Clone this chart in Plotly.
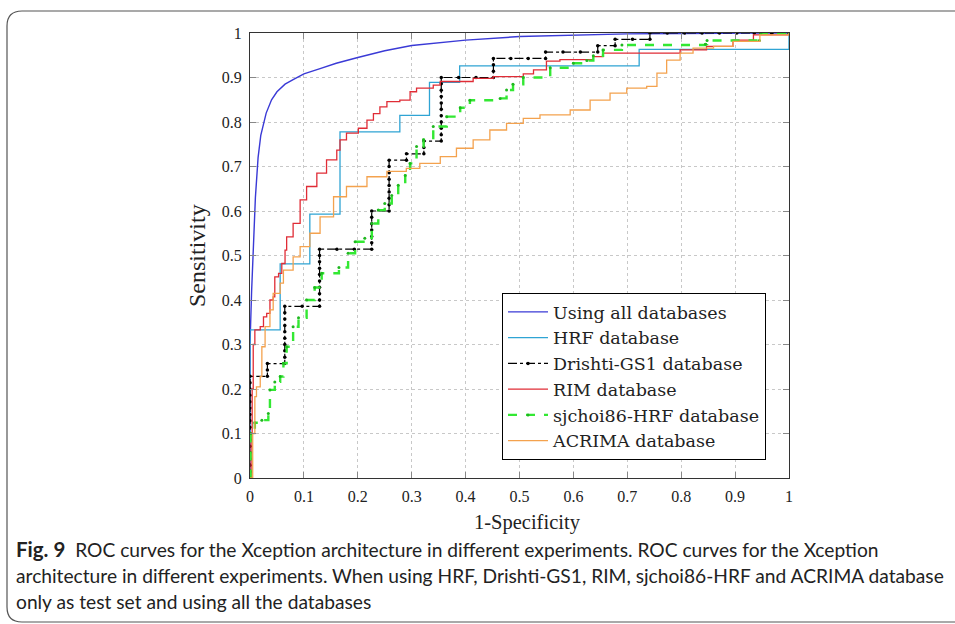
import plotly.graph_objects as go
import numpy as np

# ---------------- data ----------------
x_ticks = [0, 0.1, 0.2, 0.3, 0.4, 0.5, 0.6, 0.7, 0.8, 0.9, 1]
x_tick_text = ["0", "0.1", "0.2", "0.3", "0.4", "0.5", "0.6", "0.7", "0.8", "0.9", "1"]
y_ticks = [0, 0.1, 0.2, 0.3, 0.4, 0.5, 0.6, 0.7, 0.8, 0.9, 1]
y_tick_text = ["0", "0.1", "0.2", "0.3", "0.4", "0.5", "0.6", "0.7", "0.8", "0.9", "1"]

all_fpr = [0, 0, 0.003, 0.006, 0.01, 0.015, 0.02, 0.03, 0.04, 0.05, 0.065, 0.08, 0.1, 0.13,
           0.16, 0.2, 0.25, 0.3, 0.35, 0.4, 0.5, 0.6, 0.7, 0.8, 1]
all_tpr = [0, 0.3, 0.42, 0.52, 0.63, 0.72, 0.77, 0.82, 0.85, 0.868, 0.885, 0.895, 0.908, 0.92,
           0.932, 0.945, 0.96, 0.972, 0.978, 0.984, 0.992, 0.995, 0.998, 0.999, 1]

hrf_fpr = [0, 0, 0.056, 0.056, 0.111, 0.111, 0.167, 0.167, 0.278, 0.278, 0.333, 0.333,
           0.389, 0.389, 0.722, 0.722, 1, 1]
hrf_tpr = [0, 0.333, 0.333, 0.481, 0.481, 0.593, 0.593, 0.778, 0.778, 0.815, 0.815, 0.889,
           0.889, 0.926, 0.926, 0.963, 0.963, 1]

# Drishti-GS1: counts of negatives (of 31) and positives (of 70) at each threshold
drishti_fp_count = [0, 0, 0, 0, 0, 0, 0, 0, 0, 0, 0, 0, 0, 0, 0, 0, 0,
                    1, 1, 1,
                    2, 2, 2, 2, 2, 2, 2, 2, 2, 2,
                    3,
                    4, 4, 4, 4, 4, 4, 4, 4, 4, 4,
                    5, 6,
                    7, 7, 7, 7, 7, 7, 7,
                    8, 8, 8, 8, 8, 8, 8, 8, 8,
                    9, 9,
                    10, 10, 10,
                    11, 11, 11, 11, 11, 11, 11, 11, 11, 11, 11,
                    12, 13,
                    14, 14, 14, 14,
                    15, 16,
                    17, 17,
                    18, 19,
                    20, 20,
                    21, 21,
                    22,
                    23, 23,
                    24, 25, 26, 27, 28, 29, 30, 31]
drishti_tp_count = [0, 1, 2, 3, 4, 5, 6, 7, 8, 9, 10, 11, 12, 13, 14, 15, 16,
                    16, 17, 18,
                    18, 19, 20, 21, 22, 23, 24, 25, 26, 27,
                    27,
                    27, 28, 29, 30, 31, 32, 33, 34, 35, 36,
                    36, 36,
                    36, 37, 38, 39, 40, 41, 42,
                    42, 43, 44, 45, 46, 47, 48, 49, 50,
                    50, 51,
                    51, 52, 53,
                    53, 54, 55, 56, 57, 58, 59, 60, 61, 62, 63,
                    63, 63,
                    63, 64, 65, 66,
                    66, 66,
                    66, 67,
                    67, 67,
                    67, 68,
                    68, 69,
                    69,
                    69, 70,
                    70, 70, 70, 70, 70, 70, 70, 70]
drishti_neg_total = 31
drishti_pos_total = 70

rim_fpr = [0, 0.002, 0.004, 0.006, 0.009, 0.019, 0.025, 0.031, 0.037, 0.043, 0.046, 0.053,
           0.059, 0.065, 0.068, 0.08, 0.093, 0.105, 0.124, 0.142, 0.161, 0.167, 0.179, 0.201,
           0.217, 0.229, 0.241, 0.254, 0.278, 0.297, 0.309, 0.34, 0.353, 0.414, 0.451, 0.507,
           0.526, 0.55, 0.575, 0.637, 0.655, 0.798, 0.847, 0.896, 0.934, 1]
rim_tpr = [0, 0.1, 0.2, 0.3, 0.333, 0.34, 0.362, 0.37, 0.4, 0.407, 0.452, 0.46,
           0.482, 0.512, 0.542, 0.572, 0.625, 0.655, 0.685, 0.715, 0.737, 0.76, 0.775, 0.786,
           0.804, 0.819, 0.834, 0.846, 0.849, 0.868, 0.876, 0.883, 0.891, 0.898, 0.902, 0.908,
           0.917, 0.937, 0.94, 0.947, 0.955, 0.962, 0.97, 0.984, 0.996, 1]

sj_fpr = [0, 0.001, 0.009, 0.022, 0.034, 0.037, 0.046, 0.056, 0.062, 0.068, 0.08, 0.09,
          0.105, 0.12, 0.133, 0.165, 0.182, 0.195, 0.213, 0.226, 0.238, 0.25, 0.263, 0.275,
          0.288, 0.297, 0.309, 0.322, 0.34, 0.365, 0.39, 0.408, 0.464, 0.476, 0.488, 0.507,
          0.557, 0.6, 0.625, 0.637, 0.655, 0.69, 0.845, 0.848, 0.945, 0.948, 1]
sj_tpr = [0, 0.1, 0.124, 0.13, 0.145, 0.198, 0.216, 0.228, 0.258, 0.295, 0.34, 0.36,
          0.4, 0.428, 0.46, 0.473, 0.505, 0.531, 0.539, 0.572, 0.602, 0.617, 0.635, 0.658,
          0.68, 0.707, 0.745, 0.76, 0.79, 0.812, 0.832, 0.849, 0.853, 0.872, 0.885, 0.9,
          0.922, 0.932, 0.938, 0.949, 0.962, 0.973, 0.975, 0.983, 0.983, 1.0, 1]

acr_fpr = [0, 0.005, 0.009, 0.012, 0.019, 0.022, 0.028, 0.037, 0.043, 0.056, 0.062, 0.08,
           0.093, 0.111, 0.13, 0.155, 0.179, 0.217, 0.254, 0.29, 0.315, 0.353, 0.383, 0.414,
           0.445, 0.476, 0.507, 0.538, 0.594, 0.631, 0.668, 0.699, 0.736, 0.755, 0.773, 0.798,
           0.822, 0.86, 0.896, 0.946, 1]
acr_tpr = [0, 0.1, 0.183, 0.205, 0.228, 0.295, 0.34, 0.378, 0.415, 0.438, 0.467, 0.497,
           0.52, 0.55, 0.587, 0.632, 0.655, 0.677, 0.689, 0.696, 0.707, 0.722, 0.741, 0.76,
           0.782, 0.797, 0.808, 0.816, 0.827, 0.849, 0.865, 0.876, 0.88, 0.91, 0.939, 0.955,
           0.966, 0.97, 0.981, 0.996, 1]

caption_lines = [
    "<b style='font-size:20.5px'>Fig. 9</b>  ROC curves for the Xception architecture in different experiments. ROC curves for the Xception",
    "architecture in different experiments. When using HRF, Drishti-GS1, RIM, sjchoi86-HRF and ACRIMA database",
    "only as test set and using all the databases",
]

# ---------------- figure ----------------
W, H = 955, 624
L, R, T, B = 250, 789, 33, 478  # plot area in pixels
SERIF = "Liberation Serif"

fig = go.Figure()
fig.add_trace(go.Scatter(x=all_fpr, y=all_tpr, mode="lines", name="Using all databases",
                         legendgroup="a", line=dict(color="#3a3ad6", width=1.4)))
fig.add_trace(go.Scatter(x=hrf_fpr, y=hrf_tpr, mode="lines", name="HRF database",
                         legendgroup="b", line=dict(color="#2fa4d4", width=1.3)))
fig.add_trace(go.Scatter(x=np.array(drishti_fp_count) / drishti_neg_total,
                         y=np.array(drishti_tp_count) / drishti_pos_total,
                         mode="lines+markers", name="Drishti-GS1 database", legendgroup="c",
                         line=dict(color="black", width=1.2, dash="dashdot"),
                         marker=dict(color="black", size=3.5)))
fig.add_trace(go.Scatter(x=rim_fpr, y=rim_tpr, mode="lines", name="RIM database",
                         legendgroup="d", line=dict(color="#e02c36", width=1.3, shape="hv")))
fig.add_trace(go.Scatter(x=sj_fpr, y=sj_tpr, mode="lines+markers", name="sjchoi86-HRF database",
                         legendgroup="e", line=dict(color="#33e833", width=2.4, dash="dash", shape="hv"),
                         marker=dict(color="#1fb81f", size=3)))
fig.add_trace(go.Scatter(x=acr_fpr, y=acr_tpr, mode="lines", name="ACRIMA database",
                         legendgroup="f", line=dict(color="#f4a24e", width=1.3, shape="hv")))

axis_common = dict(range=[0, 1], showline=True, mirror="ticks", linecolor="#333333", linewidth=1.2,
                   ticks="inside", ticklen=6, tickcolor="#888888", tickwidth=1,
                   showgrid=True, gridcolor="#c8c8c8", griddash="dot", gridwidth=1,
                   zeroline=False, tickfont=dict(family=SERIF, size=16, color="#222222"))
fig.update_xaxes(tickvals=x_ticks, ticktext=x_tick_text, ticklabelstandoff=4, **axis_common)
fig.update_yaxes(tickvals=y_ticks, ticktext=y_tick_text, ticklabelstandoff=4, **axis_common)

def px_x(p):
    return (p - L) / (R - L)

def px_y(p):
    return (B - p) / (B - T)

annotations = [
    dict(text="1-Specificity", x=px_x(527), y=px_y(522), xref="paper", yref="paper",
         xanchor="center", yanchor="middle",
         showarrow=False, font=dict(family=SERIF, size=20.5, color="#222222")),
    dict(text="Sensitivity", x=px_x(197), y=px_y(256), xref="paper", yref="paper",
         xanchor="center", yanchor="middle",
         showarrow=False, textangle=-90, font=dict(family=SERIF, size=24, color="#222222")),
]
for i, line in enumerate(caption_lines):
    annotations.append(dict(text=line, x=px_x(14), y=px_y(549 + 26 * i), xref="paper", yref="paper",
                            xanchor="left", yanchor="middle", showarrow=False,
                            font=dict(family="Lato", size=19.2, color="#222222")))

shapes = [
    dict(type="path", xref="paper", yref="paper",
         path=f"M {px_x(1000)} {px_y(11)} L {px_x(22)} {px_y(11)} Q {px_x(7)} {px_y(11)} {px_x(7)} {px_y(26)} "
              f"L {px_x(7)} {px_y(607)} Q {px_x(7)} {px_y(622)} {px_x(22)} {px_y(622)} L {px_x(1000)} {px_y(622)}",
         line=dict(color="#555555", width=1.2)),
]

fig.update_layout(
    width=W, height=H, margin=dict(l=L, r=W - R, t=T, b=H - B),
    paper_bgcolor="white", plot_bgcolor="white",
    annotations=annotations, shapes=shapes,
    legend=dict(x=px_x(502), y=px_y(293), xanchor="left", yanchor="top",
                bgcolor="white", bordercolor="black", borderwidth=1,
                font=dict(family="DejaVu Serif", size=17.5, color="#222222"),
                tracegroupgap=0, traceorder="normal", itemwidth=40),
)

fig.write_html("out.html")
